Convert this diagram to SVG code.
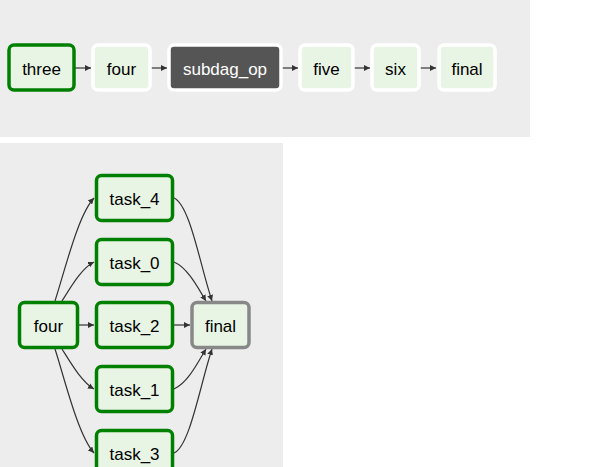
<svg xmlns="http://www.w3.org/2000/svg" width="602" height="467" viewBox="0 0 602 467">
<defs>
<marker id="ah" viewBox="0 0 10 10" refX="10" refY="5" markerWidth="6" markerHeight="6" markerUnits="userSpaceOnUse" orient="auto"><path d="M0,0 L10,5 L0,10 z" fill="#333"/></marker>
<style>
.bg{fill:#ededed}
.n{fill:#e8f5e4;stroke-width:3.5}
.ok{stroke:#008000}
.w{stroke:#ffffff}
.g{stroke:#888888}
.dark{fill:#555555;stroke:#ffffff;stroke-width:3.5}
text{font-family:"Liberation Sans",Arial,sans-serif;font-size:17px;text-anchor:middle;dominant-baseline:central;fill:#000}
.lt{fill:#ffffff}
.e{fill:none;stroke:#333;stroke-width:1.2;marker-end:url(#ah)}
</style>
</defs>
<rect class="bg" x="0" y="0" width="530" height="137"/>
<rect class="bg" x="0" y="143" width="283" height="324"/>
<g id="connectors">
<path class="e" d="M75,68 L91,68"/>
<path class="e" d="M151,68 L167,68"/>
<path class="e" d="M282,68 L298,68"/>
<path class="e" d="M354,68 L370,68"/>
<path class="e" d="M420,68 L436,68"/>
<path class="e" d="M55,301 C65,270 78,215 94,198"/>
<path class="e" d="M62,301 C72,285 82,268 94,262"/>
<path class="e" d="M79,325 L94,325"/>
<path class="e" d="M62,349 C72,365 82,382 94,389"/>
<path class="e" d="M55,349 C65,380 78,435 94,453"/>
<path class="e" d="M174,198 C190,205 200,265 212,301"/>
<path class="e" d="M174,262 C188,268 198,288 206,301"/>
<path class="e" d="M174,325 L190,325"/>
<path class="e" d="M174,389 C188,383 198,362 206,349"/>
<path class="e" d="M174,453 C190,446 200,385 212,349"/>
</g>
<g id="three"><rect class="n ok" x="9" y="45" width="65" height="45" rx="5"/><text x="41.5" y="69">three</text></g>
<g id="four_top"><rect class="n w" x="93" y="45" width="57" height="45" rx="5"/><text x="121.5" y="69">four</text></g>
<g id="subdag_op"><rect class="dark" x="169" y="45" width="112" height="45" rx="5"/><text class="lt" x="225" y="69">subdag_op</text></g>
<g id="five"><rect class="n w" x="300" y="45" width="53" height="45" rx="5"/><text x="326.5" y="69">five</text></g>
<g id="six"><rect class="n w" x="372" y="45" width="47" height="45" rx="5"/><text x="395.5" y="69">six</text></g>
<g id="final_top"><rect class="n w" x="439" y="45" width="56" height="45" rx="5"/><text x="467" y="69">final</text></g>
<g id="four"><rect class="n ok" x="19.5" y="302.5" width="58" height="45" rx="5"/><text x="48.5" y="326">four</text></g>
<g id="task_4"><rect class="n ok" x="96.5" y="175.5" width="76" height="45" rx="5"/><text x="134.5" y="199">task_4</text></g>
<g id="task_0"><rect class="n ok" x="96.5" y="239.5" width="76" height="45" rx="5"/><text x="134.5" y="263">task_0</text></g>
<g id="task_2"><rect class="n ok" x="96.5" y="302.5" width="76" height="45" rx="5"/><text x="134.5" y="326">task_2</text></g>
<g id="task_1"><rect class="n ok" x="96.5" y="366.5" width="76" height="45" rx="5"/><text x="134.5" y="390">task_1</text></g>
<g id="task_3"><rect class="n ok" x="96.5" y="430.5" width="76" height="45" rx="5"/><text x="134.5" y="454">task_3</text></g>
<g id="final"><rect class="n g" x="192" y="302.5" width="57" height="45" rx="5"/><text x="220.5" y="326">final</text></g>
</svg>
